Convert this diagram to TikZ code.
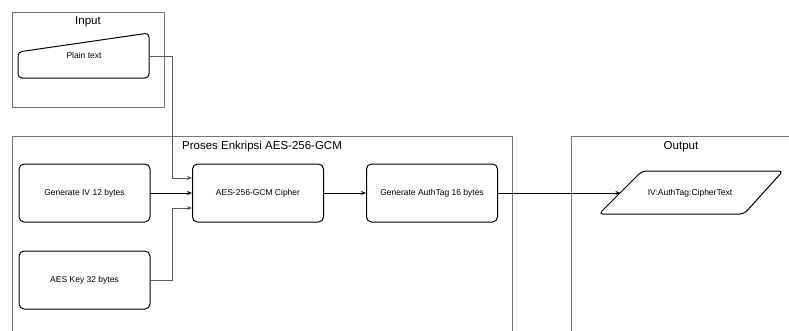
\documentclass[tikz,border=0pt]{standalone}
\usepackage{fontspec}
\setmainfont{Liberation Sans}
\usetikzlibrary{arrows.meta}
\begin{document}
\begin{tikzpicture}[x=1pt,y=-1pt,
  container/.style={draw=black!55,line width=0.6pt},
  ctitle/.style={font=\fontsize{11.5}{13}\selectfont,inner sep=0pt},
  procbox/.style={draw=black,line width=1pt,rounded corners=5pt,minimum width=131pt,minimum height=58pt,font=\fontsize{8.5}{10}\selectfont,inner sep=0pt},
  shapeline/.style={draw=black,line width=1pt,rounded corners=4pt},
  label/.style={font=\fontsize{8.5}{10}\selectfont,inner sep=0pt},
  conn/.style={line width=0.6pt,-{Stealth[length=5pt,width=4pt]}},
  gconn/.style={conn,draw=black!65}]
\clip (0,0) rectangle (789,330);
% containers
\draw[container] (12,12) rectangle (164,107);
\node[ctitle] (tin) at (88,22) {Input};
\draw[container] (12,136) rectangle (512,345);
\node[ctitle] (tproc) at (262,147) {Proses Enkripsi AES-256-GCM};
\draw[container] (571,136) rectangle (800,345);
\node[ctitle] (tout) at (681,147) {Output};
% manual input
\draw[shapeline] (18,52) -- (149,33) -- (149,78) -- (18,78) -- cycle;
\node[label] (pt) at (84,55) {Plain text};
\coordinate (ptR) at (149,56);
% process boxes
\node[procbox] (iv) at (84.5,193) {Generate IV 12 bytes};
\node[procbox] (key) at (84.5,280) {AES Key 32 bytes};
\node[procbox] (ciph) at (258,193) {AES-256-GCM Cipher};
\node[procbox] (tag) at (432,193) {Generate AuthTag 16 bytes};
% output parallelogram
\draw[shapeline] (599,214) -- (642,171) -- (783,171) -- (744,214) -- cycle;
\node[label] (out) at (690,193) {IV:AuthTag:CipherText};
\coordinate (outL) at (620.5,193);
% connectors
\draw[gconn] (ptR) -- ++(23,0) |- ([yshift=15pt]ciph.west);
\draw[conn] (iv.east) -- (ciph.west);
\draw[gconn] (key.east) -- ++(22,0) |- ([yshift=-15pt]ciph.west);
\draw[conn] (ciph.east) -- (tag.west);
\draw[conn] (tag.east) -- (outL);
\end{tikzpicture}
\end{document}
